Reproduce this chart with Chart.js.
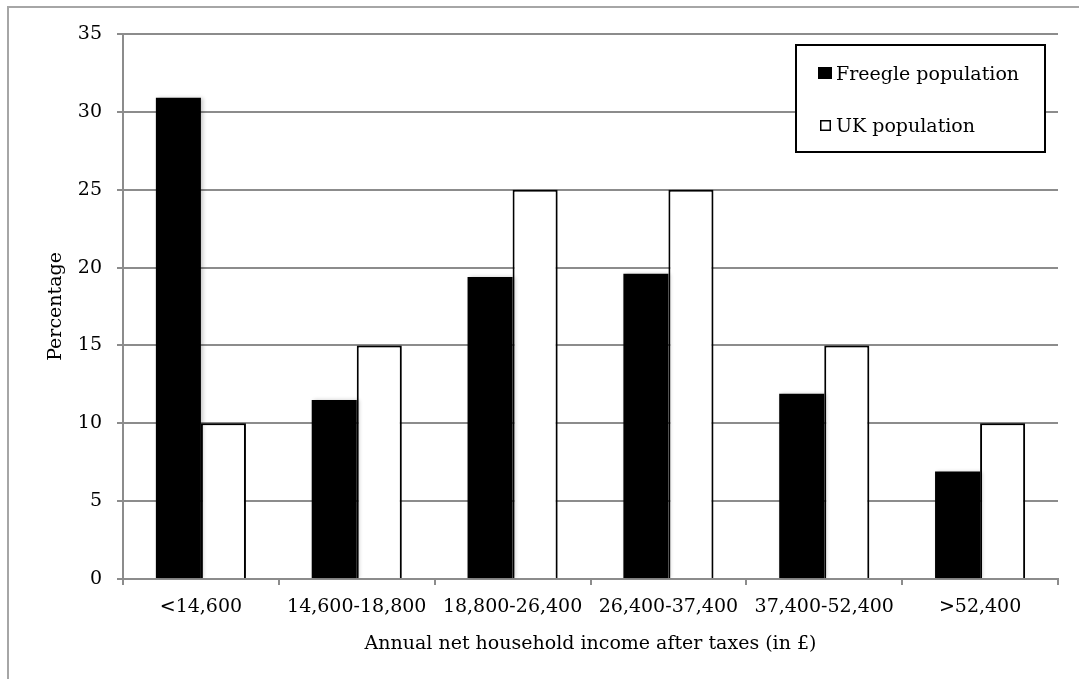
<!DOCTYPE html>
<html>
<head>
<meta charset="utf-8">
<script src="https://cdn.jsdelivr.net/npm/chart.js@4"></script>
<style>
  html, body { margin: 0; padding: 0; background: #fff; overflow: hidden; }
  #wrap { position: relative; width: 1079px; height: 679px; }
  #frame { position: absolute; left: 7px; top: 6px; width: 1200px; height: 800px;
           border-left: 2px solid #a6a6a6; border-top: 2px solid #a6a6a6; pointer-events: none; }
  canvas { position: absolute; left: 0; top: 0; }
</style>
</head>
<body>
<div id="wrap">
  <canvas id="chart" width="1079" height="679"></canvas>
  <div id="frame"></div>
</div>
<script>
// Income bands (annual net household income after taxes, £)
const incomeBands = ['<14,600', '14,600-18,800', '18,800-26,400', '26,400-37,400', '37,400-52,400', '>52,400'];
// Share of households in each band (%)
const freeglePopulation = [30.9, 11.5, 19.4, 19.6, 11.9, 6.9];
const ukPopulation = [10, 15, 25, 25, 15, 10];
const seriesNames = ['Freegle population', 'UK population'];
const yTicks = { min: 0, max: 35, step: 5 };

const FONT = '"DejaVu Serif", "Liberation Serif", serif';
const FONT_SIZE = 19;
const GRID = '#8c8c8c';

// Soft drop shadow behind the bars
const barShadow = {
  id: 'barShadow',
  beforeDatasetDraw(chart) {
    const ctx = chart.ctx;
    ctx.save();
    ctx.shadowColor = 'rgba(0,0,0,0.22)';
    ctx.shadowBlur = 4;
    ctx.shadowOffsetX = 2;
    ctx.shadowOffsetY = 0;
  },
  afterDatasetDraw(chart) {
    chart.ctx.restore();
  }
};

// Boxed legend in the upper right of the plot
const boxedLegend = {
  id: 'boxedLegend',
  afterDraw(chart) {
    const ctx = chart.ctx;
    const x0 = 796, y0 = 45, w = 249, h = 107;
    ctx.save();
    ctx.fillStyle = '#fff';
    ctx.fillRect(x0, y0, w, h);
    ctx.strokeStyle = '#000';
    ctx.lineWidth = 2;
    ctx.strokeRect(x0, y0, w, h);
    ctx.font = FONT_SIZE + 'px ' + FONT;
    ctx.textBaseline = 'middle';
    chart.data.datasets.forEach((ds, i) => {
      const cy = y0 + 30 + i * 52;
      const filled = ds.backgroundColor === '#000000';
      ctx.fillStyle = ds.backgroundColor;
      ctx.strokeStyle = '#000';
      if (filled) {
        ctx.fillRect(818, cy - 8, 14, 12);
      } else {
        ctx.fillRect(820, cy - 7, 11, 11);
        ctx.lineWidth = 1.5;
        ctx.strokeRect(820.75, cy - 6.25, 9.5, 9.5);
      }
      ctx.fillStyle = '#000';
      ctx.fillText(ds.label, 836, cy);
    });
    ctx.restore();
  }
};

new Chart(document.getElementById('chart'), {
  type: 'bar',
  data: {
    labels: incomeBands,
    datasets: [
      { label: seriesNames[0], data: freeglePopulation, backgroundColor: '#000000',
        borderColor: '#000000', borderWidth: 0 },
      { label: seriesNames[1], data: ukPopulation, backgroundColor: '#ffffff',
        borderColor: '#000000', borderWidth: 2 }
    ]
  },
  options: {
    responsive: false,
    animation: false,
    devicePixelRatio: 1,
    layout: { padding: { left: 45, top: 34, right: 21, bottom: 24 } },
    datasets: { bar: { categoryPercentage: 0.578, barPercentage: 1.0 } },
    plugins: {
      legend: { display: false },
      tooltip: { enabled: false }
    },
    scales: {
      x: {
        offset: true,
        grid: { display: true, drawOnChartArea: false, offset: true, color: GRID,
                lineWidth: 2, tickLength: 6 },
        border: { display: true, color: GRID, width: 2 },
        ticks: { color: '#000', font: { family: FONT, size: FONT_SIZE }, padding: 11, maxRotation: 0 },
        title: { display: true, text: 'Annual net household income after taxes (in £)',
                 color: '#000', font: { family: FONT, size: FONT_SIZE }, padding: 0 },
        afterFit(scale) { scale.height = 76; }
      },
      y: {
        min: yTicks.min,
        max: yTicks.max,
        ticks: { stepSize: yTicks.step, color: '#000', font: { family: FONT, size: FONT_SIZE }, padding: 15 },
        grid: { color: GRID, lineWidth: 2, tickLength: 6 },
        border: { display: true, color: GRID, width: 2 },
        title: { display: true, text: 'Percentage', color: '#000',
                 font: { family: FONT, size: FONT_SIZE }, padding: 0 },
        afterFit(scale) { scale.width = 78; }
      }
    }
  },
  plugins: [barShadow, boxedLegend]
});
</script>
</body>
</html>
